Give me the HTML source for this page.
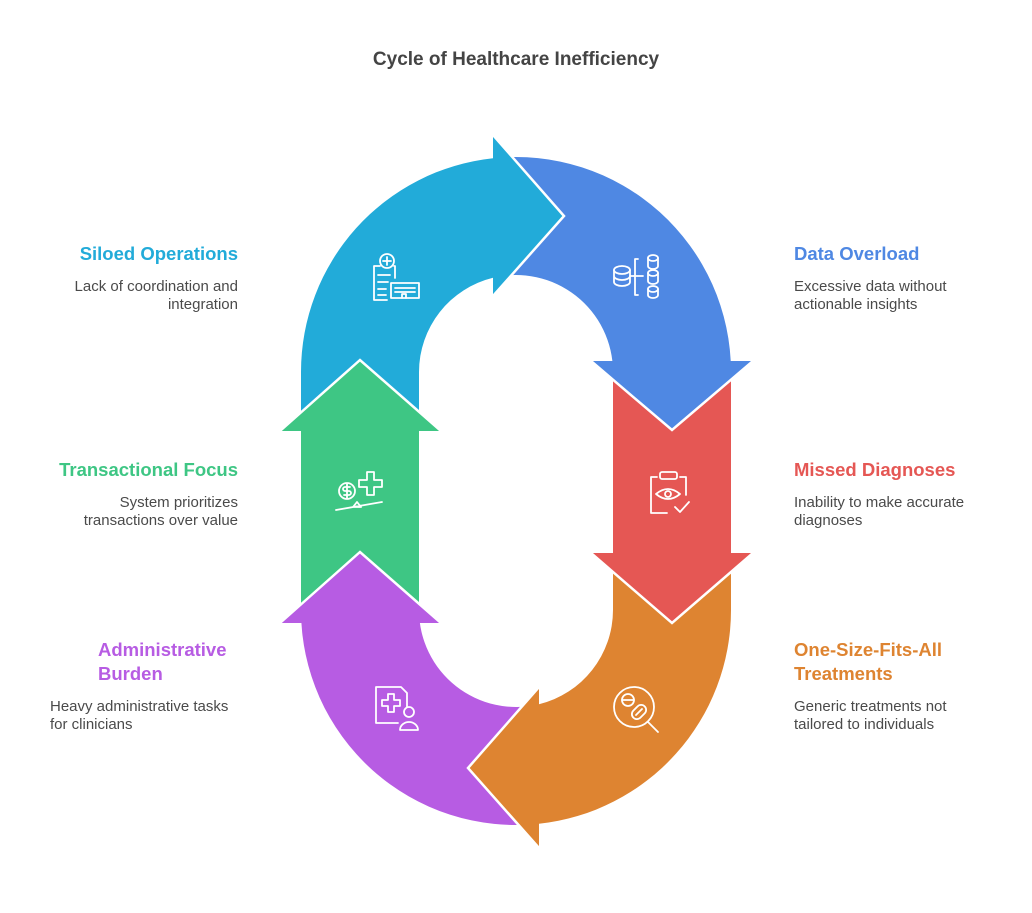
<!DOCTYPE html>
<html><head><meta charset="utf-8"><style>
body{margin:0;width:1032px;height:913px;background:#fff;font-family:"Liberation Sans",sans-serif;position:relative;overflow:hidden}
.t{position:absolute;font-weight:bold;font-size:18.5px;line-height:24px}
.d{position:absolute;font-size:15px;line-height:18px;color:#4a4a4a}
.r{text-align:right}
</style></head><body>
<div style="position:absolute;left:0;width:1032px;top:49px;text-align:center;font-weight:bold;font-size:19px;color:#444">Cycle of Healthcare Inefficiency</div>
<svg width="1032" height="913" style="position:absolute;left:0;top:0">
<g>
<path fill="#3ec684" d="M301,623 L301,431 L419,431 L419,623 Z"/>
<path fill="#b75ce3" d="M539,823.8 A215 215 0 0 1 301,610 L301,623 L419,623 L419,610 A97 97 0 0 0 539,704.2 Z"/>
<path fill="#de8431" d="M731,553 L731,610 A215 215 0 0 1 539,823.8 L539,704.2 A97 97 0 0 0 613,610 L613,553 Z"/>
<path fill="#e55754" d="M613,361 L731,361 L731,553 L613,553 Z"/>
<path fill="#4f88e3" d="M493,158.2 A215 215 0 0 1 731,372 L731,361 L613,361 L613,372 A97 97 0 0 0 493,277.8 Z"/>
<path fill="#22abd9" d="M301,431 L301,372 A215 215 0 0 1 493,158.2 L493,277.8 A97 97 0 0 0 419,372 L419,431 Z"/>
</g>
<g stroke="none">
<path fill="#22abd9" d="M493,135 L564,216 L493,296 Z"/>
<path fill="#4f88e3" d="M591,361 L753,361 L672,430 Z"/>
<path fill="#e55754" d="M591,553 L753,553 L672,623 Z"/>
<path fill="#de8431" d="M539,687 L539,848 L468,768 Z"/>
<path fill="#b75ce3" d="M280,623 L360,552 L441,623 Z"/>
<path fill="#3ec684" d="M280,431 L360,360 L441,431 Z"/>
</g>
<g fill="none" stroke="#fff" stroke-width="2.5">
<polyline points="493,135 564,216 493,296"/>
<polyline points="591,361 672,430 753,361"/>
<polyline points="591,553 672,623 753,553"/>
<polyline points="539,687 468,768 539,848"/>
<polyline points="280,623 360,552 441,623"/>
<polyline points="280,431 360,360 441,431"/>
</g>
<g fill="none" stroke="#fff" stroke-width="1.8" stroke-linecap="round" stroke-linejoin="round">
<circle cx="387" cy="261" r="7"/><path d="M387,257v8M383,261h8"/>
<path d="M380,266h-6v34h13M394,266h1v12"/><path d="M378,275h12M378,282h10M378,289h8M378,295h8"/>
<rect x="391" y="283" width="28" height="15"/><path d="M395,288h20M395,292h20M402,298v-4h4v4"/>
<ellipse cx="622" cy="270" rx="8" ry="4"/><path d="M614,270v12a8,4 0 0 0 16,0v-12M614,276a8,4 0 0 0 16,0"/>
<path d="M630,276h8M638,259h-3v36h3M638,276h5"/>
<ellipse cx="653" cy="258" rx="5" ry="3"/><path d="M648,258v8a5,3 0 0 0 10,0v-8"/>
<ellipse cx="653" cy="273" rx="5" ry="3"/><path d="M648,273v8a5,3 0 0 0 10,0v-8"/>
<ellipse cx="653" cy="289" rx="5" ry="3"/><path d="M648,289v6a5,3 0 0 0 10,0v-6"/>
<path d="M657,477h-6v36h16M680,477h6v18"/><rect x="660" y="472" width="17" height="7" rx="2"/>
<path d="M656,494q12,-10 24,0q-12,10 -24,0Z"/><circle cx="668" cy="494" r="3"/><path d="M675,507l5,5l9,-10"/>
<circle cx="347" cy="491" r="8"/><path d="M350,487h-5a2,2 0 0 0 0,4h4a2,2 0 0 1 0,4h-5M347,484v14"/>
<path d="M367,472h7v8h8v7h-8v8h-7v-8h-8v-7h8Z"/><path d="M336,510l46,-8M353,507l4,-5l4,5Z"/>
<path d="M398,723h-22v-36h25l6,6v14"/><path d="M382,700h6v-6h6v6h6v6h-6v6h-6v-6h-6Z"/>
<circle cx="409" cy="712" r="5"/><path d="M400,730a9,8 0 0 1 18,0Z"/>
<circle cx="634" cy="707" r="20"/><circle cx="628" cy="700" r="6"/><path d="M622,700h12"/>
<rect x="634" y="704" width="10" height="16" rx="5" transform="rotate(45 639 712)"/><path d="M636,715l6,-6"/><path d="M648,722l10,10"/>
</g>
</svg>
<div class="t r" style="right:794px;top:242px;color:#22abd9">Siloed Operations</div>
<div class="d r" style="right:794px;top:278px">Lack of coordination and<br>integration</div>
<div class="t r" style="right:794px;top:458px;color:#3ec684">Transactional Focus</div>
<div class="d r" style="right:794px;top:494px">System prioritizes<br>transactions over value</div>
<div class="t" style="left:98px;top:638px;color:#b75ce3">Administrative<br>Burden</div>
<div class="d" style="left:50px;top:698px">Heavy administrative tasks<br>for clinicians</div>
<div class="t" style="left:794px;top:242px;color:#4f88e3">Data Overload</div>
<div class="d" style="left:794px;top:278px">Excessive data without<br>actionable insights</div>
<div class="t" style="left:794px;top:458px;color:#e55754">Missed Diagnoses</div>
<div class="d" style="left:794px;top:494px">Inability to make accurate<br>diagnoses</div>
<div class="t" style="left:794px;top:638px;color:#de8431">One-Size-Fits-All<br>Treatments</div>
<div class="d" style="left:794px;top:698px">Generic treatments not<br>tailored to individuals</div>
</body></html>
